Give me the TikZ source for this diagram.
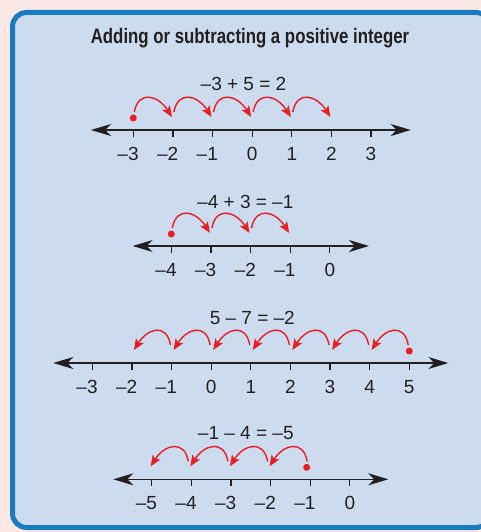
\documentclass[tikz,border=0pt]{standalone}
\usepackage{fontspec}
\setmainfont{Liberation Sans}
\newfontfamily\titlefont[FakeStretch=0.8]{Liberation Sans}
\usetikzlibrary{arrows.meta}
\definecolor{pagebg}{HTML}{FCE9E7}
\definecolor{boxfill}{HTML}{CCDCEE}
\definecolor{boxline}{HTML}{1B7BC1}
\definecolor{hopred}{HTML}{EC1C24}
\definecolor{ink}{HTML}{231F20}
\newcommand\mn{\makebox[0pt][r]{–}}
\newcommand\drawnumline[7]{%
  \coordinate (#1L) at (#6,#2);
  \coordinate (#1R) at (#7,#2);
  \draw[axis] (#1L) -- (#1R);
  \foreach \k in {0,...,#5}{%
    \pgfmathsetmacro\xx{#3+39.62*\k}%
    \pgfmathtruncatemacro\vv{#4+\k}%
    \coordinate (#1t\k) at (\xx,#2);
    \draw[tick] (#1t\k) -- ++(0,7);
    \node[numlab] (#1n\k) at (\xx,#2+30) {\ifnum\vv<0 \mn\number-\vv\else\vv\fi};
  }}
\begin{document}
\begin{tikzpicture}[x=1pt,y=-1pt,
  axis/.style={line width=1.3pt, draw=ink, {Stealth[length=20pt,width=12pt,inset=6pt]}-{Stealth[length=20pt,width=12pt,inset=6pt]}},
  tick/.style={line width=1.2pt, draw=ink},
  hop/.style={line width=1.4pt, draw=hopred, -{Stealth[length=11pt,width=9pt,inset=2.5pt]}},
  dotmark/.style={circle, fill=hopred, inner sep=0pt, minimum size=7pt},
  numlab/.style={anchor=base, font=\fontsize{19}{21}\selectfont, text=ink, inner sep=0pt},
  eqn/.style={anchor=base, font=\fontsize{19}{21}\selectfont, text=ink, inner sep=0pt},
]
\path[use as bounding box, fill=pagebg] (0,0) rectangle (481,532);
\draw[boxline, line width=5pt, fill=boxfill, rounded corners=14pt] (12.5,12.5) rectangle (490,527.5);

\node[anchor=base, text=ink, font=\titlefont\bfseries\fontsize{21}{24}\selectfont] (title) at (250,43.3) {Adding or subtracting a positive integer};

% line 1: -3 + 5 = 2
\node[eqn] (eq1) at (243.5,90.7) {–3 + 5 = 2};
\drawnumline{a}{130}{133.3}{-3}{6}{91}{410.7}
\node[dotmark] (d1) at ([shift={(0,-12)}]at0) {};
\foreach \k [evaluate=\k as \j using int(\k+1)] in {0,...,4}{
  \draw[hop] ([shift={(1,-18)}]at\k) .. controls +(4,-22) and +(-14,-22) .. ([shift={(-1,-13)}]at\j);
}

% line 2: -4 + 3 = -1
\node[eqn] (eq2) at (245.3,208.3) {–4 + 3 = –1};
\drawnumline{b}{246}{171.3}{-4}{4}{132.7}{369}
\node[dotmark] (d2) at ([shift={(0,-12)}]bt0) {};
\foreach \k [evaluate=\k as \j using int(\k+1)] in {0,...,2}{
  \draw[hop] ([shift={(1,-18)}]bt\k) .. controls +(4,-22) and +(-14,-22) .. ([shift={(-1,-13)}]bt\j);
}

% line 3: 5 - 7 = -2
\node[eqn] (eq3) at (252.3,324) {5 – 7 = –2};
\drawnumline{c}{363}{92.3}{-3}{8}{53.3}{448.3}
\node[dotmark] (d3) at ([shift={(0,-12)}]ct8) {};
\foreach \k [evaluate=\k as \j using int(\k-1)] in {8,...,2}{
  \draw[hop] ([shift={(-1,-18)}]ct\k) .. controls +(-4,-22) and +(14,-22) .. ([shift={(2,-13)}]ct\j);
}

% line 4: -1 - 4 = -5
\node[eqn] (eq4) at (245.8,439) {–1 – 4 = –5};
\drawnumline{e}{479.3}{151.7}{-5}{5}{113.3}{388.3}
\node[dotmark] (d4) at ([shift={(-3.5,-12)}]et4) {};
\foreach \k [evaluate=\k as \j using int(\k-1)] in {4,...,1}{
  \draw[hop] ([shift={(-3,-18)}]et\k) .. controls +(-4,-22) and +(14,-22) .. ([shift={(-1,-13)}]et\j);
}
\end{tikzpicture}
\end{document}
